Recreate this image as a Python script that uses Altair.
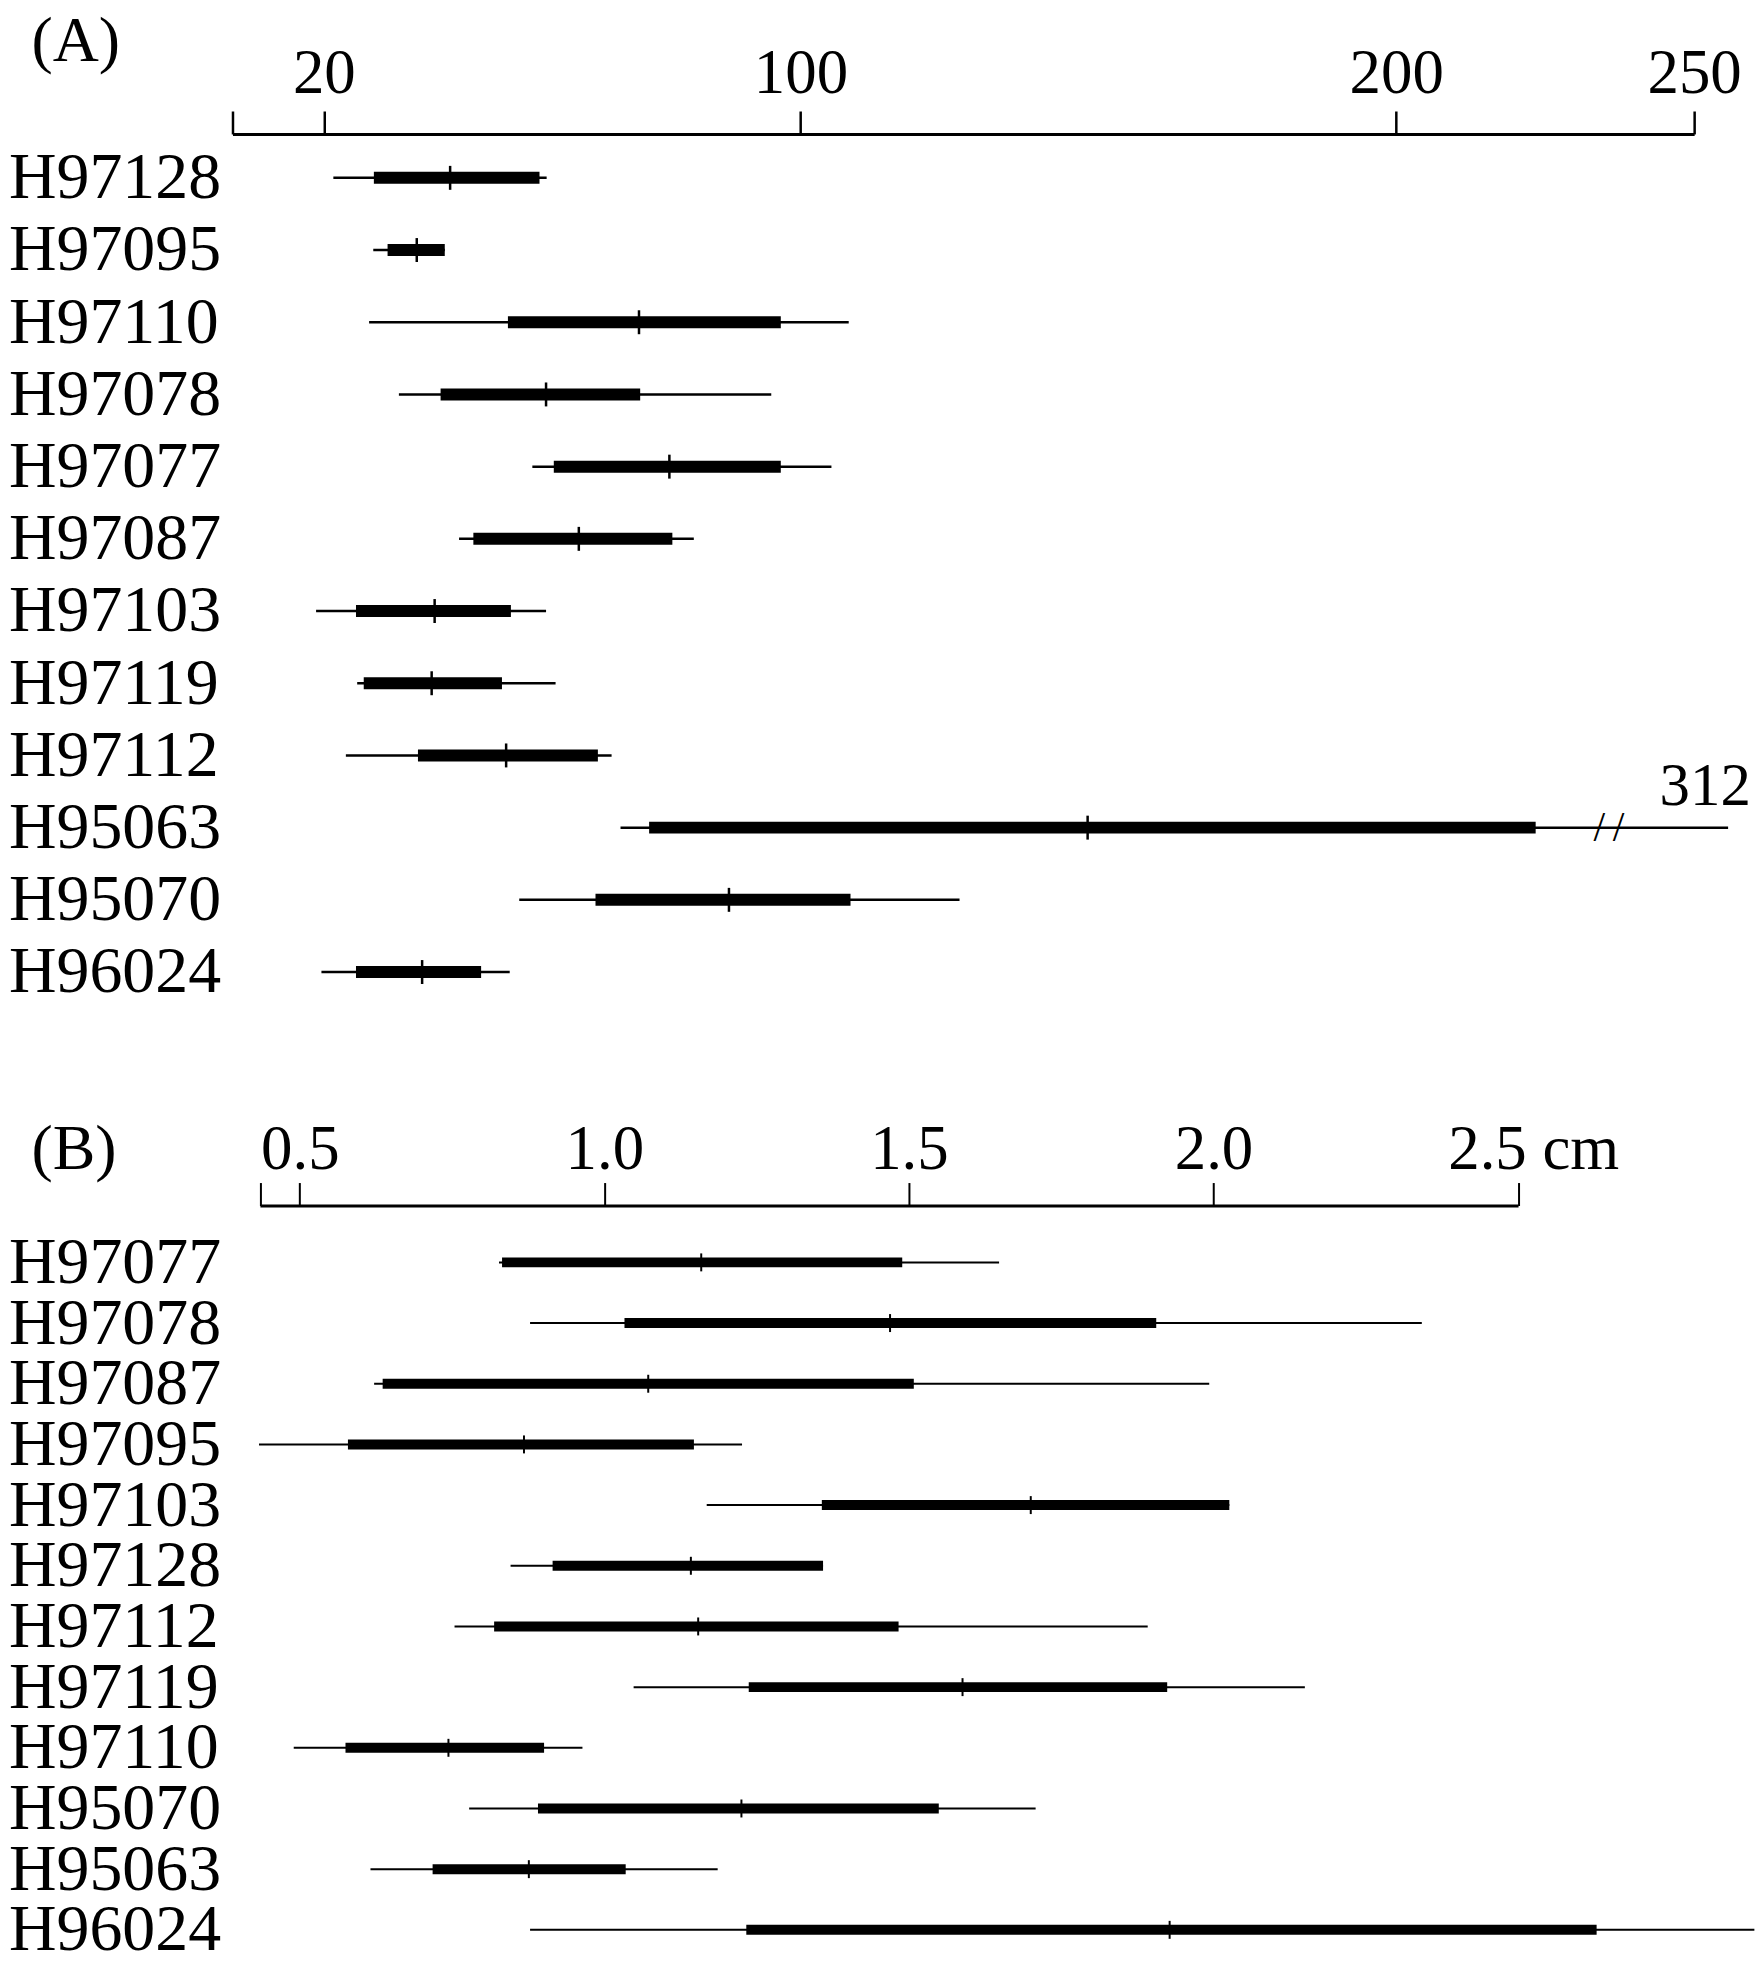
import altair as alt
import numpy as np
import pandas as pd

FONT = "Liberation Serif"
INK = "black"

# ---------------- data: panel (A) ----------------
rows_a = ["H97128", "H97095", "H97110", "H97078", "H97077", "H97087",
          "H97103", "H97119", "H97112", "H95063", "H95070", "H96024"]
min_a = [21.6, 28.3, 27.6, 32.6, 55.0, 42.7, 18.7, 25.6, 23.7, 69.8, 52.8, 19.6]
q1_a = [28.4, 30.7, 50.9, 39.6, 58.6, 45.1, 25.4, 26.7, 35.8, 74.6, 65.6, 25.4]
mid_a = [41.2, 35.6, 72.9, 57.3, 78.0, 62.8, 38.6, 38.1, 50.6, 148.2, 88.0, 36.5]
q3_a = [56.2, 40.3, 96.7, 73.1, 96.7, 78.5, 51.4, 49.9, 66.0, 223.4, 108.4, 46.4]
max_a = [57.4, 40.3, 108.1, 95.1, 105.2, 82.1, 57.3, 58.9, 68.3, 312.0, 126.7, 51.2]
ticks_a = [20, 100, 200, 250]

# ---------------- data: panel (B) ----------------
rows_b = ["H97077", "H97078", "H97087", "H97095", "H97103", "H97128",
          "H97112", "H97119", "H97110", "H95070", "H95063", "H96024"]
min_b = [0.827, 0.878, 0.622, 0.433, 1.168, 0.846, 0.754, 1.048, 0.490, 0.778, 0.616, 0.878]
q1_b = [0.832, 1.033, 0.636, 0.579, 1.357, 0.915, 0.819, 1.237, 0.575, 0.891, 0.718, 1.233]
mid_b = [1.159, 1.469, 1.072, 0.868, 1.700, 1.142, 1.154, 1.588, 0.744, 1.225, 0.876, 1.928]
q3_b = [1.489, 1.906, 1.508, 1.147, 2.026, 1.359, 1.483, 1.924, 0.901, 1.549, 1.035, 2.629]
max_b = [1.648, 2.342, 1.993, 1.226, 2.026, 1.359, 1.892, 2.150, 0.964, 1.708, 1.186, 2.888]
ticks_b = [0.5, 1.0, 1.5, 2.0, 2.5]
unit_b = "cm"

# ---------------- layout constants ----------------
LABEL_GAP = 224.5          # distance from row-label start to plot origin
TAG_X = -201.5             # x of the "(A)"/"(B)" tags relative to plot origin

A_DOMAIN = [4.67, 250]
A_W, A_H = 1465, 884
A_BREAK_AT = 250
A_BREAK_DRAW = 255.7
A_BREAK_SLASHES = [234.1, 237.3]
A_BREAK_LABEL_X = 244.2

B_DOMAIN = [0.4345, 2.5]
B_X0, B_LEN = 27.5, 1261
B_W, B_H = 1289, 746

ROW_FS = 66
TICK_FS = 63


def x_enc(field, domain, rng, values, label_expr, label_pad, tick_w):
    return alt.X(
        f"{field}:Q", title=None,
        scale=alt.Scale(domain=domain, range=rng, nice=False, zero=False),
        axis=alt.Axis(orient="top", values=values, labelExpr=label_expr,
                      tickSize=23, tickWidth=tick_w, tickColor=INK,
                      domainWidth=3, domainColor=INK, grid=False,
                      labelFont=FONT, labelFontSize=TICK_FS, labelColor=INK,
                      labelPadding=label_pad, labelFlush=False, labelOverlap=False))


def y_enc(rows, pad, align):
    return alt.Y(
        "row:N", title=None,
        scale=alt.Scale(type="point", domain=rows, padding=pad, align=align),
        axis=alt.Axis(orient="left", labelAlign="left", labelBaseline="middle",
                      labelPadding=LABEL_GAP, ticks=False, tickSize=0, domain=False,
                      grid=False, labelFont=FONT, labelFontSize=ROW_FS, labelColor=INK,
                      labelLimit=0, labelOverlap=False))


# ---------------- panel (A) ----------------
dfa = pd.DataFrame({"row": rows_a, "mn": min_a, "q1": q1_a, "md": mid_a,
                    "q3": q3_a, "mx": max_a})
dfa["mx_draw"] = np.where(dfa["mx"] > A_BREAK_AT, A_BREAK_DRAW, dfa["mx"])


def xa(field):
    return x_enc(field, A_DOMAIN, [0, A_W], [A_DOMAIN[0]] + ticks_a,
                 "datum.value < 10 ? '' : datum.label", 6, 2.5)


ya = y_enc(rows_a, 0.608, 0.5)

base_a = alt.Chart(dfa)
thin_a = base_a.mark_rule(color=INK, strokeWidth=2.5).encode(x=xa("mn"), x2="mx_draw:Q", y=ya)
thick_a = base_a.mark_rule(color=INK, strokeWidth=12).encode(x=xa("q1"), x2="q3:Q", y=ya)
tick_a = base_a.mark_tick(color=INK, thickness=2.5, size=24, opacity=1).encode(x=xa("md"), y=ya)

brk = dfa[dfa["mx"] > A_BREAK_AT]
slash_df = pd.DataFrame([(r, s) for r in brk["row"] for s in A_BREAK_SLASHES],
                        columns=["row", "xs"])
slash_a = alt.Chart(slash_df).mark_text(
    text="/", font=FONT, fontSize=42, color=INK, align="center", baseline="middle"
).encode(x=xa("xs"), y=ya)

lab_df = pd.DataFrame({"row": brk["row"].tolist(),
                       "xl": [A_BREAK_LABEL_X] * len(brk),
                       "t": [f"{v:g}" for v in brk["mx"]]})
lab_a = alt.Chart(lab_df).mark_text(
    font=FONT, fontSize=61, color=INK, align="left", baseline="alphabetic", dy=-23
).encode(x=xa("xl"), y=ya, text="t:N")

tag_a = alt.Chart(pd.DataFrame({"t": ["(A)"]})).mark_text(
    font=FONT, fontSize=64, color=INK, align="left", baseline="alphabetic"
).encode(text="t:N", x=alt.value(TAG_X), y=alt.value(-73))

panel_a = alt.layer(thin_a, thick_a, tick_a, slash_a, lab_a, tag_a).properties(
    width=A_W, height=A_H)

# ---------------- panel (B) ----------------
dfb = pd.DataFrame({"row": rows_b, "mn": min_b, "q1": q1_b, "md": mid_b,
                    "q3": q3_b, "mx": max_b})


def xb(field):
    return x_enc(field, B_DOMAIN, [B_X0, B_X0 + B_LEN], [B_DOMAIN[0]] + ticks_b,
                 "datum.value < 0.45 || datum.value > 2.45 ? '' : format(datum.value, '.1f')",
                 1, 2)


yb = y_enc(rows_b, 0.6332, 0.7403)

base_b = alt.Chart(dfb)
thin_b = base_b.mark_rule(color=INK, strokeWidth=2).encode(x=xb("mn"), x2="mx:Q", y=yb)
thick_b = base_b.mark_rule(color=INK, strokeWidth=10).encode(x=xb("q1"), x2="q3:Q", y=yb)
tick_b = base_b.mark_tick(color=INK, thickness=2, size=18, opacity=1).encode(x=xb("md"), y=yb)

last_df = pd.DataFrame({"xc": [ticks_b[-1]], "t": [f"{ticks_b[-1]:.1f} {unit_b}"]})
last_b = alt.Chart(last_df).mark_text(
    font=FONT, fontSize=TICK_FS, color=INK, align="left", baseline="alphabetic", dx=-70
).encode(x=xb("xc"), y=alt.value(-37), text="t:N")

tag_b = alt.Chart(pd.DataFrame({"t": ["(B)"]})).mark_text(
    font=FONT, fontSize=64, color=INK, align="left", baseline="alphabetic"
).encode(text="t:N", x=alt.value(TAG_X), y=alt.value(-37))

panel_b = alt.layer(thin_b, thick_b, tick_b, last_b, tag_b).properties(
    width=B_W, height=B_H)

chart = alt.vconcat(panel_a, panel_b, spacing=102).properties(
    padding={"left": 0, "top": 0, "right": 0, "bottom": 0}
).configure_view(stroke=None)

chart.save("out.html", embed_options={"renderer": "svg", "actions": False})
